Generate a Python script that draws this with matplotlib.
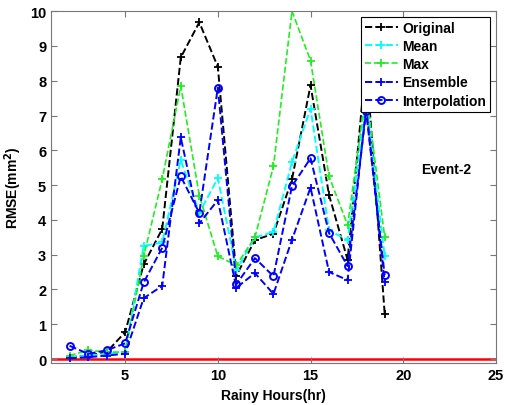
import matplotlib
matplotlib.use('Agg')
import matplotlib.pyplot as plt

plt.rcParams['font.family'] = ['Liberation Sans', 'DejaVu Sans']
plt.rcParams['font.weight'] = 'bold'

# Rainy hours
hours = [2, 3, 4, 5, 6, 7, 8, 9, 10, 11, 12, 13, 14, 15, 16, 17, 18, 19]

# RMSE per method
original = [0.05, 0.1, 0.2, 0.77, 2.72, 3.74, 8.67, 9.68, 8.4, 2.4, 3.42, 3.6,
            5.17, 7.87, 4.71, 2.85, 8.6, 1.3]
mean = [0.05, 0.1, 0.15, 0.2, 3.25, 3.35, 5.72, 4.2, 5.2, 2.55, 3.5, 3.65,
        5.66, 7.2, 3.7, 3.42, 7.4, 2.95]
maxv = [0.1, 0.25, 0.2, 0.2, 2.95, 5.17, 7.85, 4.7, 2.95, 2.7, 3.5, 5.54,
        10.0, 8.58, 5.25, 3.85, 7.7, 3.5]
ensemble = [0.02, 0.05, 0.1, 0.15, 1.75, 2.1, 6.37, 3.9, 4.57, 2.05, 2.47, 1.87,
            3.43, 4.93, 2.5, 2.27, 7.25, 2.2]
interp = [0.38, 0.15, 0.25, 0.45, 2.2, 3.2, 5.25, 4.2, 7.8, 2.15, 2.9, 2.38,
          4.97, 5.77, 3.62, 2.67, 7.12, 2.41]

fig = plt.figure(figsize=(5.05, 4.06), dpi=100)
ax = fig.add_axes([0.101, 0.103, 0.881, 0.867])

ax.plot(hours, original, '--+', color='black', lw=1.4, ms=6, mew=1.3, label='Original')
ax.plot(hours, mean, '--+', color='cyan', lw=1.4, ms=6, mew=1.3, label='Mean')
ax.plot(hours, maxv, '--+', color='#22ee22', lw=1.2, ms=6, mew=1.3, label='Max')
ax.plot(hours, ensemble, '--+', color='blue', lw=1.4, ms=6, mew=1.3, label='Ensemble')
ax.plot(hours, interp, '--o', color='blue', lw=1.4, ms=5, mew=1.4, mfc='none',
        label='Interpolation')

# zero reference line
ax.axhline(0, color='red', lw=1.8, zorder=0)

ax.set_xlim(1, 25)
ax.set_ylim(-0.12, 10)
ax.set_xticks([5, 10, 15, 20, 25])
ax.set_yticks(range(0, 11))
ax.tick_params(direction='in', labelsize=10.5, length=4, color='#777777',
               top=True, right=True)
for sp in ax.spines.values():
    sp.set_color('#777777')

ax.set_xlabel('Rainy Hours(hr)', fontsize=10, fontweight='bold')
ax.set_ylabel('RMSE(mm$^2$)', fontsize=10, fontweight='bold')

ax.text(22.3, 5.45, 'Event-2', fontsize=10, fontweight='bold', ha='center', va='center')

leg = ax.legend(loc='upper right', fontsize=10, fancybox=False, framealpha=1,
                edgecolor='black', borderaxespad=0.4, handlelength=2.4,
                labelspacing=0.3, borderpad=0.3, handletextpad=0.3)
leg.get_frame().set_linewidth(0.8)

fig.savefig('out.png', dpi=100)
